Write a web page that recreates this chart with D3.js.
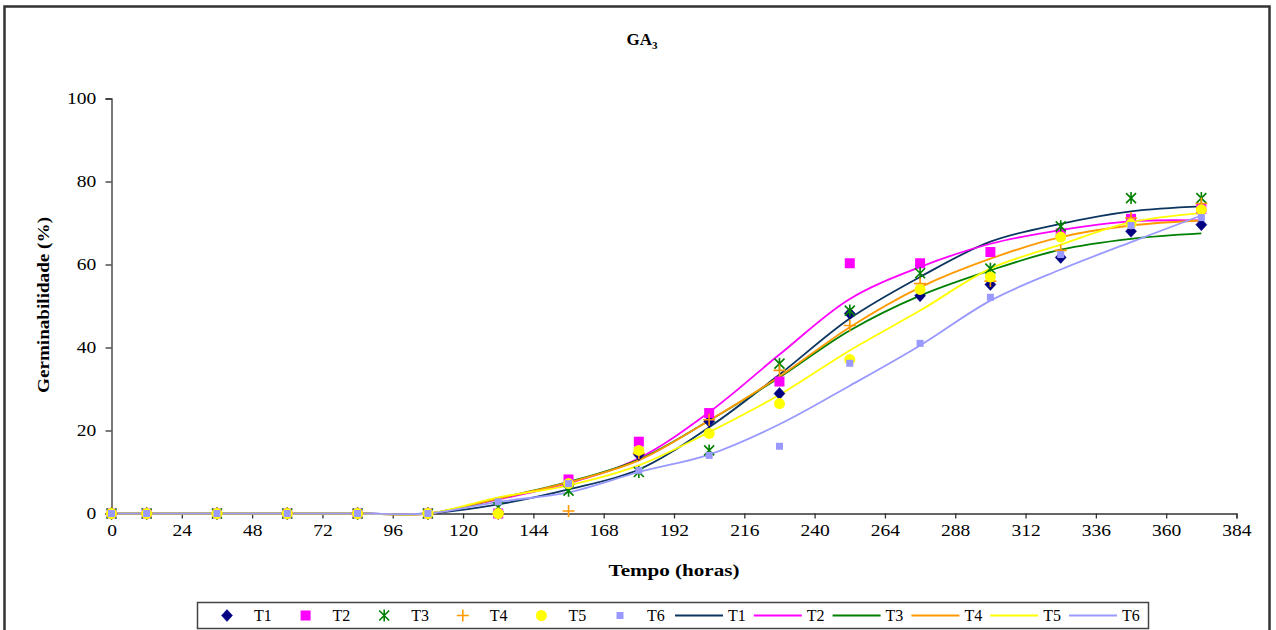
<!DOCTYPE html>
<html>
<head>
<meta charset="utf-8">
<script src="https://cdn.jsdelivr.net/npm/d3@7"></script>
<style>
  html, body { margin: 0; padding: 0; background: #fff; }
  svg { display: block; }
  svg text { font-family: "Liberation Serif", "Times New Roman", Tinos, "DejaVu Serif", serif !important; fill: #000; }
</style>
</head>
<body>
<svg id="chart" width="1276" height="630"></svg>
<script>
// ---- Data ----
const hours = [0, 12, 36, 60, 84, 108, 132, 156, 180, 204, 228, 252, 276, 300, 324, 348, 372];
const seriesNames = ["T1", "T2", "T3", "T4", "T5", "T6"];

// observed points
const obsT1 = [0, 0, 0, 0, 0, 0, 0, 7.0, 14.2, 22.2, 28.9, 48.2, 52.5, 55.2, 61.7, 68.0, 69.6];
const obsT2 = [0, 0, 0, 0, 0, 0, 0, 8.2, 17.3, 24.2, 31.8, 60.3, 60.3, 63.0, 67.5, 71.0, 73.4];
const obsT3 = [0, 0, 0, 0, 0, 0, 1.5, 5.5, 10.0, 15.2, 36.1, 48.9, 57.9, 59.0, 69.2, 76.0, 76.0];
const obsT4 = [0, 0, 0, 0, 0, 0, 0, 0.6, 14.5, 22.6, 34.5, 45.3, 55.4, 56.0, 63.4, 71.2, 74.7];
const obsT5 = [0, 0, 0, 0, 0, 0, 0, 7.2, 15.2, 19.3, 26.5, 37.1, 54.0, 57.0, 66.6, 69.8, 73.2];
const obsT6 = [0, 0, 0, 0, 0, 0, 2.8, 7.2, 10.4, 14.0, 16.2, 36.2, 41.0, 52.1, 62.4, 69.4, 71.3];

// fitted (smoothed) curves
const fitT1 = [0, 0, 0, 0, 0, 0, 2.2, 5.8, 10.6, 20.8, 33.5, 47.0, 57.0, 65.5, 69.8, 72.8, 74.0];
const fitT2 = [0, 0, 0, 0, 0, 0, 3.4, 7.3, 13.3, 24.4, 38.3, 51.7, 59.4, 65.0, 68.3, 70.4, 70.6];
const fitT3 = [0, 0, 0, 0, 0, 0, 3.6, 7.6, 13.0, 22.4, 32.8, 44.1, 52.5, 58.6, 63.6, 66.2, 67.5];
const fitT4 = [0, 0, 0, 0, 0, 0, 3.6, 7.5, 12.8, 22.4, 33.0, 44.9, 54.5, 61.4, 66.6, 69.4, 70.6];
const fitT5 = [0, 0, 0, 0, 0, 0, 3.9, 6.8, 11.6, 19.6, 28.6, 39.3, 48.9, 59.0, 64.8, 70.2, 72.4];
const fitT6 = [0, 0, 0, 0, 0, 0, 2.8, 5.1, 10.0, 14.2, 21.5, 30.8, 40.5, 51.3, 58.8, 65.4, 71.8];

const xTicks = [0, 24, 48, 72, 96, 120, 144, 168, 192, 216, 240, 264, 288, 312, 336, 360, 384];
const yTicks = [0, 20, 40, 60, 80, 100];

const markerColors = ["#000080", "#FF00FF", "#008000", "#FF9900", "#FFFF00", "#9999FF"];
const lineColors   = ["#0B3560", "#FF00FF", "#008000", "#FF9900", "#FFFF00", "#9999FF"];
const markerShapes = ["diamond", "square", "star", "plus", "circle", "smallsquare"];

const observed = [obsT1, obsT2, obsT3, obsT4, obsT5, obsT6];
const fitted = [fitT1, fitT2, fitT3, fitT4, fitT5, fitT6];

// ---- Layout ----
const svg = d3.select("#chart");
const plot = { left: 111.5, right: 1236.5, top: 98.5, bottom: 513.5 };

const x = d3.scaleLinear().domain([0, 384]).range([plot.left, plot.right]);
const y = d3.scaleLinear().domain([0, 100]).range([plot.bottom, plot.top]);

const FONT = '"Liberation Serif", "Times New Roman", Tinos, "DejaVu Serif", serif';

// outer frame
svg.append("rect")
  .attr("x", 4.5).attr("y", 6.5).attr("width", 1265).attr("height", 640)
  .attr("fill", "none").attr("stroke", "#333").attr("stroke-width", 2.5);

// title
const title = svg.append("text")
  .attr("x", 642).attr("y", 45)
  .attr("text-anchor", "middle")
  .attr("font-family", FONT)
  .style("font-weight", "bold").style("font-size", "17px");
title.append("tspan").text("GA");
title.append("tspan").attr("dy", 4).style("font-size", "11px").text("3");

// axes
const xAxis = d3.axisBottom(x).tickValues(xTicks).tickFormat(d3.format("d")).tickSizeOuter(0).tickSize(5);
const yAxis = d3.axisLeft(y).tickValues(yTicks).tickFormat(d3.format("d")).tickSizeOuter(0).tickSize(6);

const gx = svg.append("g").attr("transform", `translate(0,${plot.bottom})`).call(xAxis);
const gy = svg.append("g").attr("transform", `translate(${plot.left},0)`).call(yAxis);

[gx, gy].forEach(g => {
  g.attr("font-family", FONT);
  g.select(".domain").attr("stroke", "#333").attr("stroke-width", 1.3);
  g.selectAll(".tick line").attr("stroke", "#333").attr("stroke-width", 1.3);
  g.selectAll(".tick text")
    .style("font-size", "16px")
    .attr("fill", "#000");
});
gx.selectAll(".tick text").attr("y", 11).attr("transform", "scale(1.22,1)");
gy.selectAll(".tick text").attr("x", -12.5).attr("transform", "scale(1.22,1)");

// axis titles
svg.append("text")
  .attr("transform", "translate(49,305) rotate(-90)")
  .attr("text-anchor", "middle")
  .attr("font-family", FONT)
  .attr("textLength", 176).attr("lengthAdjust", "spacingAndGlyphs")
  .style("font-weight", "bold").style("font-size", "16px")
  .text("Germinabilidade (%)");

svg.append("text")
  .attr("x", 674).attr("y", 576)
  .attr("text-anchor", "middle")
  .attr("font-family", FONT)
  .attr("textLength", 131).attr("lengthAdjust", "spacingAndGlyphs")
  .style("font-weight", "bold").style("font-size", "16px")
  .text("Tempo (horas)");

// ---- marker drawing ----
function drawMarker(g, shape, color, cx, cy) {
  switch (shape) {
    case "diamond":
      g.append("path").attr("d", `M${cx},${cy-6}L${cx+5.5},${cy}L${cx},${cy+6}L${cx-5.5},${cy}Z`)
        .attr("fill", color).attr("stroke", color).attr("stroke-width", 0.5);
      break;
    case "square":
      g.append("rect").attr("x", cx-5).attr("y", cy-5).attr("width", 10).attr("height", 10).attr("fill", color);
      break;
    case "star":
      g.append("path").attr("d",
        `M${cx-5},${cy-5}L${cx+5},${cy+5}M${cx-5},${cy+5}L${cx+5},${cy-5}M${cx},${cy-6}L${cx},${cy+6}`)
        .attr("stroke", color).attr("stroke-width", 1.6).attr("fill", "none");
      break;
    case "plus":
      g.append("path").attr("d", `M${cx-6},${cy}L${cx+6},${cy}M${cx},${cy-6}L${cx},${cy+6}`)
        .attr("stroke", color).attr("stroke-width", 1.6).attr("fill", "none");
      break;
    case "circle":
      g.append("circle").attr("cx", cx).attr("cy", cy).attr("r", 5.5).attr("fill", color);
      break;
    case "smallsquare":
      g.append("rect").attr("x", cx-3.5).attr("y", cy-3.5).attr("width", 7).attr("height", 7).attr("fill", color);
      break;
  }
}

// ---- lines ----
const line = d3.line()
  .x((d, i) => x(hours[i]))
  .y(d => y(d))
  .curve(d3.curveCatmullRom.alpha(0.5));

const gl = svg.append("g");
fitted.forEach((vals, k) => {
  gl.append("path").attr("d", line(vals))
    .attr("fill", "none").attr("stroke", lineColors[k]).attr("stroke-width", 1.8);
});

// ---- markers ----
const gm = svg.append("g");
observed.forEach((vals, k) => {
  vals.forEach((v, i) => drawMarker(gm, markerShapes[k], markerColors[k], x(hours[i]), y(v)));
});

// ---- legend ----
const lg = svg.append("g").attr("font-family", FONT);
lg.append("rect").attr("x", 197.5).attr("y", 602.5).attr("width", 951).attr("height", 26)
  .attr("fill", "#fff").attr("stroke", "#444").attr("stroke-width", 1.5);
const legY = 615.5;
seriesNames.forEach((name, k) => {
  const mx = 227 + k * 78.6;
  drawMarker(lg, markerShapes[k], markerColors[k], mx, legY);
  lg.append("text").attr("x", mx + 27).attr("y", legY + 5.5).style("font-size", "16px").text(name);
});
seriesNames.forEach((name, k) => {
  const lx = 675 + k * 78.8;
  lg.append("line").attr("x1", lx).attr("x2", lx + 48).attr("y1", legY).attr("y2", legY)
    .attr("stroke", lineColors[k]).attr("stroke-width", 1.8);
  lg.append("text").attr("x", lx + 53).attr("y", legY + 5.5).style("font-size", "16px").text(name);
});
</script>
</body>
</html>
